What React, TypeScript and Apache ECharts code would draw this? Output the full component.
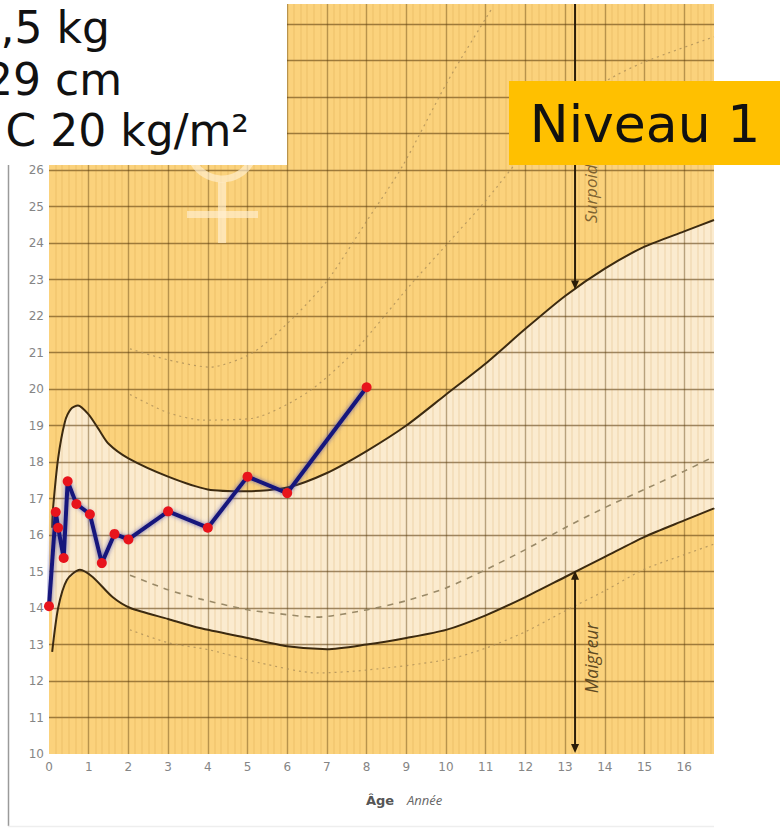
import React, { useEffect, useRef } from "react";
import * as echarts from "echarts";

const yTicksMax = 26;
const patientAge = [0, 0.17, 0.23, 0.37, 0.47, 0.69, 1.03, 1.33, 1.65, 2, 3, 4, 5, 6, 8];
const patientBmi = [14.05, 16.63, 16.2, 15.37, 17.47, 16.85, 16.57, 15.23, 16.03, 15.88, 16.65, 16.2, 17.6, 17.15, 20.05];

const upperCurve: number[][] = [
  [0.08, 16.2], [0.1, 16.7], [0.23, 18.1], [0.4, 19.1], [0.55, 19.45], [0.73, 19.55], [1, 19.3], [1.25, 18.9], [1.5, 18.5], [2, 18.1],
  [3, 17.6], [4, 17.25], [5, 17.2], [6, 17.3], [7, 17.7], [8, 18.3], [9, 19], [10, 19.85], [11, 20.7], [12, 21.65],
  [13, 22.55], [14, 23.3], [15, 23.9], [16, 24.32], [16.75, 24.63],
];
const lowerCurve: number[][] = [
  [0.08, 12.8], [0.23, 14], [0.45, 14.77], [0.78, 15.05], [1.1, 14.85], [1.6, 14.3], [2.05, 14],
  [3, 13.7], [3.8, 13.45], [5, 13.18], [6, 12.95], [7, 12.87], [8, 13], [9, 13.18], [10, 13.4], [11, 13.8], [12, 14.3],
  [13, 14.85], [14, 15.4], [15, 15.95], [16, 16.4], [16.75, 16.73],
];
const medianCurve: number[][] = [
  [2.04, 14.9], [3, 14.5], [3.8, 14.25], [5, 13.95], [5.5, 13.88], [6.75, 13.75], [8, 13.95], [9, 14.2], [10, 14.55], [11, 15.05],
  [12, 15.6], [13, 16.2], [14, 16.75], [15, 17.25], [16, 17.75], [16.75, 18.15],
];
const highDotted: number[][] = [
  [2.04, 21.1], [3, 20.8], [4.05, 20.6], [5.14, 21], [6.15, 21.95], [7.03, 23], [8, 24.6], [8.9, 26.1], [10.05, 28.45], [11.18, 30.47],
];
const midDotted: number[][] = [
  [2.04, 19.85], [3, 19.35], [3.9, 19.15], [5.14, 19.2], [6.5, 19.9], [7.66, 21], [9.1, 22.85], [10.05, 24], [11.03, 25.2], [12, 26.5],
  [13, 27.6], [14.05, 28.45], [14.97, 28.95], [16.75, 29.65],
];
const lowDotted: number[][] = [
  [2.04, 13.4], [3, 13.05], [4.05, 12.85], [5.3, 12.5], [6.75, 12.22], [8, 12.3], [10, 12.58], [11, 12.9], [12, 13.35],
  [13.05, 13.95], [14.05, 14.5], [14.97, 15.05], [15.97, 15.45], [16.75, 15.75],
];
const arrowAge = 13.25;
const surpoidsArrow = [30.55, 22.85];
const maigreurArrow = [14.9, 10.15];
const infoLines = [",5 kg", "29 cm", "C 20 kg/m²"];

const brown = "#3c2a10";
const arrowHead = (value: number[], rotate: number) => ({
  value,
  symbol: "triangle",
  symbolSize: [8, 9],
  symbolRotate: rotate,
});

function curve(name: string, data: number[][], style: any, z: number) {
  return {
    name,
    type: "line",
    data,
    smooth: 0.25,
    showSymbol: false,
    symbol: "none",
    silent: true,
    z,
    lineStyle: style,
  };
}

export default function App() {
  const ref = useRef<HTMLDivElement>(null);
  useEffect(() => {
    const chart = echarts.init(ref.current!, undefined, { renderer: "svg" });
    const dotted = { color: "#b0925a", width: 1.2, type: [2, 4], opacity: 0.85 };
    chart.setOption({
      animation: false,
      backgroundColor: "#ffffff",
      grid: {
        left: 49,
        top: 4,
        width: 665,
        height: 750,
        show: true,
        backgroundColor: "#fbd27c",
        borderWidth: 0,
      },
      xAxis: {
        type: "value",
        z: 2,
        min: 0,
        max: 16.75,
        interval: 1,
        axisLine: { show: false },
        axisTick: { show: false },
        axisLabel: {
          color: "#858585",
          fontSize: 12,
          fontFamily: "DejaVu Sans",
          margin: 7,
          formatter: (v: number) => (v <= 16 ? String(v) : ""),
        },
        splitLine: { show: true, showMinLine: false, showMaxLine: false, lineStyle: { color: "rgba(90,60,10,0.42)", width: 1.4 } },
        minorTick: { show: false, splitNumber: 6 },
        minorSplitLine: { show: true, lineStyle: { color: "rgba(190,130,40,0.11)", width: 2 } },
      },
      yAxis: {
        type: "value",
        z: 2,
        min: 10,
        max: 30.55,
        interval: 1,
        axisLine: { show: false },
        axisTick: { show: false },
        axisLabel: {
          color: "#858585",
          fontSize: 12,
          fontFamily: "DejaVu Sans",
          margin: 5,
          formatter: (v: number) => (v <= yTicksMax ? String(v) : ""),
        },
        splitLine: { show: true, showMinLine: false, showMaxLine: false, lineStyle: { color: "rgba(80,50,5,0.55)", width: 1.3 } },
      },
      series: [
        {
          name: "band",
          type: "custom",
          silent: true,
          z: 1,
          data: [[0, 10]],
          renderItem: (_p: any, api: any) => {
            const pts = [...upperCurve, ...[...lowerCurve].reverse()].map((d) => api.coord(d));
            return {
              type: "polygon",
              shape: { points: pts },
              style: { fill: "#fbebcf" },
            };
          },
        },
        curve("high", highDotted, dotted, 3),
        curve("mid", midDotted, dotted, 3),
        curve("low", lowDotted, dotted, 3),
        curve("median", medianCurve, { color: "#9a8a68", width: 1.6, type: [6, 6] }, 3),
        curve("upper", upperCurve, { color: brown, width: 2 }, 4),
        curve("lower", lowerCurve, { color: brown, width: 2 }, 4),
        {
          name: "surpoids",
          type: "line",
          silent: true,
          z: 4,
          symbol: "none",
          lineStyle: { color: "#2a1c08", width: 2 },
          data: [
            { value: [arrowAge, surpoidsArrow[0]], symbol: "none" },
            arrowHead([arrowAge, surpoidsArrow[1]], 180),
          ],
          showAllSymbol: true,
          itemStyle: { color: "#2a1c08" },
        },
        {
          name: "maigreur",
          type: "line",
          silent: true,
          z: 4,
          lineStyle: { color: "#2a1c08", width: 2 },
          data: [arrowHead([arrowAge, maigreurArrow[0]], 0), arrowHead([arrowAge, maigreurArrow[1]], 180)],
          showAllSymbol: true,
          itemStyle: { color: "#2a1c08" },
        },
        {
          name: "IMC",
          type: "line",
          z: 6,
          data: patientAge.map((a, i) => [a, patientBmi[i]]),
          symbol: "circle",
          symbolSize: 10,
          showAllSymbol: true,
          clip: false,
          itemStyle: { color: "#e8141c", borderWidth: 0 },
          lineStyle: { color: "#15157c", width: 4, shadowColor: "rgba(70,70,170,0.8)", shadowBlur: 4 },
        },
      ],
      graphic: {
        elements: [
          { type: "circle", z: 3, silent: true, shape: { cx: 222, cy: 146, r: 33 }, style: { fill: "none", stroke: "rgba(255,240,210,0.65)", lineWidth: 7 } },
          { type: "rect", z: 3, silent: true, shape: { x: 218, y: 182, width: 8, height: 61 }, style: { fill: "rgba(255,240,210,0.65)" } },
          { type: "rect", z: 3, silent: true, shape: { x: 187, y: 211, width: 71, height: 7 }, style: { fill: "rgba(255,240,210,0.65)" } },
          {
            type: "text", z: 10, x: 590, y: 190, rotation: Math.PI / 2, silent: true,
            style: { text: "Surpoids", fill: "#7e6230", font: "italic 17px 'Open Sans'", textAlign: "center", textVerticalAlign: "middle" },
          },
          {
            type: "text", z: 10, x: 591, y: 658, rotation: Math.PI / 2, silent: true,
            style: { text: "Maigreur", fill: "#5f4a22", font: "italic 17.5px 'Open Sans'", textAlign: "center", textVerticalAlign: "middle" },
          },
          { type: "rect", z: 50, silent: true, shape: { x: 0, y: 0, width: 287, height: 165 }, style: { fill: "#ffffff" } },
          { type: "text", z: 51, x: 110, y: 27, silent: true, style: { text: infoLines[0], fill: "#111", font: "44px 'DejaVu Sans'", textAlign: "right", textVerticalAlign: "middle" } },
          { type: "text", z: 51, x: 122, y: 79, silent: true, style: { text: infoLines[1], fill: "#111", font: "44px 'DejaVu Sans'", textAlign: "right", textVerticalAlign: "middle" } },
          { type: "text", z: 51, x: 249, y: 130, silent: true, style: { text: infoLines[2], fill: "#111", font: "44px 'DejaVu Sans'", textAlign: "right", textVerticalAlign: "middle" } },
          { type: "rect", z: 50, silent: true, shape: { x: 509, y: 81, width: 271, height: 84 }, style: { fill: "#ffc000" } },
          { type: "text", z: 51, x: 645, y: 124, silent: true, style: { text: "Niveau 1", fill: "#111", font: "52px 'DejaVu Sans'", textAlign: "center", textVerticalAlign: "middle" } },
          { type: "line", z: 5, silent: true, shape: { x1: 8.5, y1: 165, x2: 8.5, y2: 826 }, style: { stroke: "#9a9a9a", lineWidth: 1.5 } },
          { type: "line", z: 5, silent: true, shape: { x1: 8, y1: 826.5, x2: 714, y2: 826.5 }, style: { stroke: "#eeeeee", lineWidth: 1.5 } },
          { type: "text", z: 5, x: 366, y: 800, silent: true, style: { text: "Âge", fill: "#555", font: "bold 13px 'DejaVu Sans'", textVerticalAlign: "middle" } },
          { type: "text", z: 5, x: 407, y: 800, silent: true, style: { text: "Année", fill: "#666", font: "italic 13px 'Open Sans'", textVerticalAlign: "middle" } },
        ],
      },
    });
    return () => chart.dispose();
  }, []);
  return <div ref={ref} style={{ position: "fixed", left: 0, top: 0, width: 780, height: 829 }} />;
}
